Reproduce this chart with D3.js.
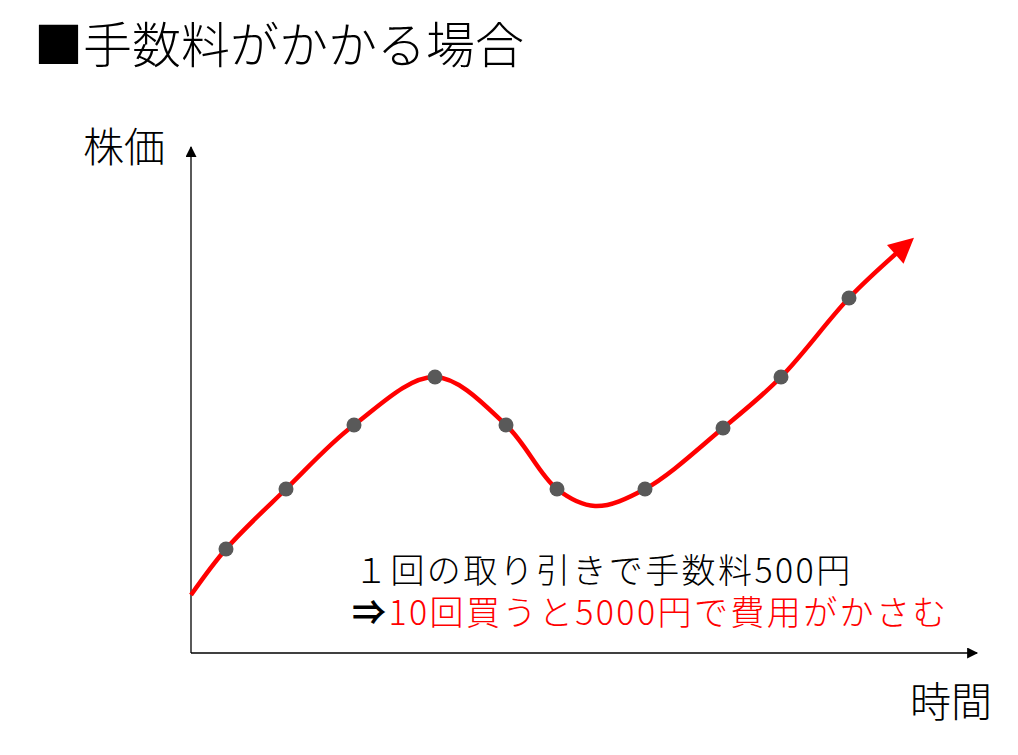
<!DOCTYPE html>
<html>
<head>
<meta charset="utf-8">
<script src="https://cdn.jsdelivr.net/npm/d3@7"></script>
<style>
  body { margin: 0; background: #fff; }
  text { font-family: "Noto Sans CJK JP", "Noto Sans", sans-serif; }
</style>
</head>
<body>
<div id="chart"></div>
<script>
// データ (時間, 株価) -- 目盛りなしの模式図
const dotTime  = [35, 95, 163, 244, 315, 366, 454, 532, 590, 658];
const dotPrice = [104, 164, 228, 276, 228, 164, 164, 225, 276, 355];

// 曲線の通過点 (始点・谷・終点を含む)
const curveTime  = [0, 35, 95, 163, 244, 315, 366, 404, 454, 532, 590, 658, 708];
const curvePrice = [58, 104, 164, 228, 276, 228, 164, 147, 164, 225, 276, 355, 402];

const TITLE = "■手数料がかかる場合";
const Y_LABEL = "株価";
const X_LABEL = "時間";
const NOTE_1 = "１回の取り引きで手数料500円";
const NOTE_2_ARROW = "⇒";
const NOTE_2 = "10回買うと5000円で費用がかさむ";

const width = 1018;
const height = 755;
const margin = { top: 153, bottom: 102, left: 191, right: 41 };

const svg = d3.select("#chart")
    .append("svg")
    .attr("width", width)
    .attr("height", height);

const defs = svg.append("defs");

// 軸の矢印
defs.append("marker")
    .attr("id", "axis-arrow")
    .attr("viewBox", "0 0 10 10")
    .attr("refX", 9)
    .attr("refY", 5)
    .attr("markerUnits", "userSpaceOnUse")
    .attr("markerWidth", 12)
    .attr("markerHeight", 11)
    .attr("orient", "auto")
    .append("path")
    .attr("d", "M0,0 L10,5 L0,10 Z")
    .attr("fill", "black");

// 曲線の矢印
defs.append("marker")
    .attr("id", "curve-arrow")
    .attr("viewBox", "0 0 10 10")
    .attr("refX", 2)
    .attr("refY", 5)
    .attr("markerUnits", "userSpaceOnUse")
    .attr("markerWidth", 27)
    .attr("markerHeight", 25)
    .attr("orient", "auto")
    .append("path")
    .attr("d", "M0,0 L10,5 L0,10 Z")
    .attr("fill", "red");

const x = d3.scaleLinear()
    .domain([0, 786])
    .range([margin.left, width - margin.right]);

const y = d3.scaleLinear()
    .domain([0, 500])
    .range([height - margin.bottom, margin.top]);

// 軸
svg.append("line")
    .attr("x1", x(0)).attr("y1", y(0))
    .attr("x2", x(0)).attr("y2", y(506))
    .attr("stroke", "black")
    .attr("stroke-width", 1.3)
    .attr("marker-end", "url(#axis-arrow)");

svg.append("line")
    .attr("x1", x(0)).attr("y1", y(0))
    .attr("x2", x(786)).attr("y2", y(0))
    .attr("stroke", "black")
    .attr("stroke-width", 1.3)
    .attr("marker-end", "url(#axis-arrow)");

// 曲線
const curveData = curveTime.map((t, i) => ({ t: t, p: curvePrice[i] }));
const line = d3.line()
    .x(d => x(d.t))
    .y(d => y(d.p))
    .curve(d3.curveCatmullRom.alpha(0.5));

svg.append("path")
    .datum(curveData)
    .attr("d", line)
    .attr("fill", "none")
    .attr("stroke", "red")
    .attr("stroke-width", 4.5)
    .attr("marker-end", "url(#curve-arrow)");

// 点
const dots = dotTime.map((t, i) => ({ t: t, p: dotPrice[i] }));
svg.append("g")
    .selectAll("circle")
    .data(dots)
    .join("circle")
    .attr("cx", d => x(d.t))
    .attr("cy", d => y(d.p))
    .attr("r", 7.5)
    .attr("fill", "#595959");

// テキスト
svg.append("text")
    .attr("x", 34)
    .attr("y", 63)
    .attr("font-size", 49)
    .attr("font-weight", 300)
    .attr("fill", "black")
    .text(TITLE);

svg.append("text")
    .attr("x", 83)
    .attr("y", 162)
    .attr("font-size", 41)
    .attr("font-weight", 300)
    .attr("fill", "black")
    .text(Y_LABEL);

svg.append("text")
    .attr("x", 910)
    .attr("y", 717)
    .attr("font-size", 41)
    .attr("font-weight", 300)
    .attr("fill", "black")
    .text(X_LABEL);

// 注記 (2行を1つのtextにまとめる)
const note = svg.append("text")
    .attr("x", 354)
    .attr("y", 583)
    .attr("font-size", 34)
    .attr("letter-spacing", 2.4)
    .attr("font-weight", 300);

note.append("tspan")
    .attr("x", 354)
    .attr("fill", "black")
    .text(NOTE_1);

note.append("tspan")
    .attr("x", 352)
    .attr("dy", 42)
    .attr("fill", "black")
    .attr("font-weight", 700)
    .text(NOTE_2_ARROW);

note.append("tspan")
    .attr("fill", "red")
    .text(NOTE_2);
</script>
</body>
</html>
